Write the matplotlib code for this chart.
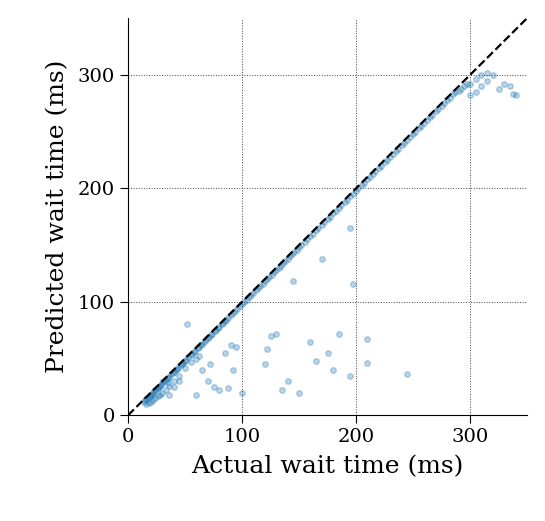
import matplotlib
matplotlib.use("Agg")
import matplotlib.pyplot as plt

diag_x = [14,15,16,17,18,19,20,21,22,23,24,25,26,27,28,29,30,32,34,36,38,40,42,44,46,48,50,53,56,59,62,65,68,71,74,77,80,83,86,90,94,98,102,106,110,114,118,122,126,130,134,138,142,146,150,155,160,165,170,175,180,185,190,195,200,205,210,215,220,225,230,235,240,245,250,255,260,265,270,275,280,285,290,295,300,305,310,315,
          16,18,20,22,24,26,28,30,33,36,40,45,50,55,60,
          31,35,39,43,47,51,55,58,61,64,67,70,73,76,79,82,85,88,92,96,100,104,108,112,116,120,124,128,132,136,140,144,148,152,157,162,167,172,177,182,187,192,197,202,207,212,217,222,227,232,237,242,247,252,257,262,267,272,277,282,287,292,297]
diag_y = [12,13,14,15,16,17,18,19,20,21,22,23,24,25,26,27,28,30,32,34,36,38,40,42,44,46,48,51,54,57,60,63,66,69,72,75,78,81,84,88,92,96,100,104,108,112,116,120,124,128,132,136,140,144,148,153,158,163,168,173,178,183,188,193,198,203,208,213,218,223,228,233,238,243,248,253,258,263,268,273,278,283,286,290,292,296,300,302,
          10,11,12,13,15,17,18,20,22,26,30,35,42,47,50,
          30,33,37,41,45,49,53,56,59,62,65,68,71,74,77,80,83,86,90,94,98,102,106,110,114,118,122,126,130,134,138,142,146,150,155,160,165,170,175,180,185,190,195,200,205,210,215,220,225,230,235,240,245,250,255,260,265,270,275,280,285,288,292]
out_x = [300,305,310,315,320,325,330,335,338,340,
         36,40,52,62,65,70,75,80,85,88,90,95,92,100,120,122,125,130,135,140,145,150,160,165,170,175,180,185,195,195,197,210,210,245,60,72,35,45]
out_y = [282,285,290,295,300,288,292,290,283,282,
         18,25,80,52,40,30,25,22,55,24,62,60,40,20,45,58,70,72,22,30,118,20,65,48,138,55,40,72,35,165,116,67,46,36,18,45,28,30]

xs = diag_x + out_x
ys = diag_y + out_y

plt.rcParams['font.family'] = ['DejaVu Serif']
fig = plt.figure(figsize=(5.45, 5.21), dpi=100)
ax = fig.add_axes([0.235, 0.203, 0.732, 0.762])
ax.scatter(xs, ys, s=16, color='#1f77b4', alpha=0.3, zorder=2)
ax.plot([0, 350], [0, 350], 'k--', lw=1.6, zorder=3)
ax.set_xlim(0, 350)
ax.set_ylim(0, 350)
ax.set_xticks([0, 100, 200, 300])
ax.set_yticks([0, 100, 200, 300])
ax.tick_params(labelsize=14, length=6)
ax.grid(True, color='#444444', linestyle=':', linewidth=0.7, zorder=0)
ax.set_axisbelow(True)
for s in ['top', 'right']:
    ax.spines[s].set_visible(False)
ax.set_xlabel('Actual wait time (ms)', fontsize=18, labelpad=6)
ax.set_ylabel('Predicted wait time (ms)', fontsize=18, labelpad=6)
fig.savefig('out.png', dpi=100)
